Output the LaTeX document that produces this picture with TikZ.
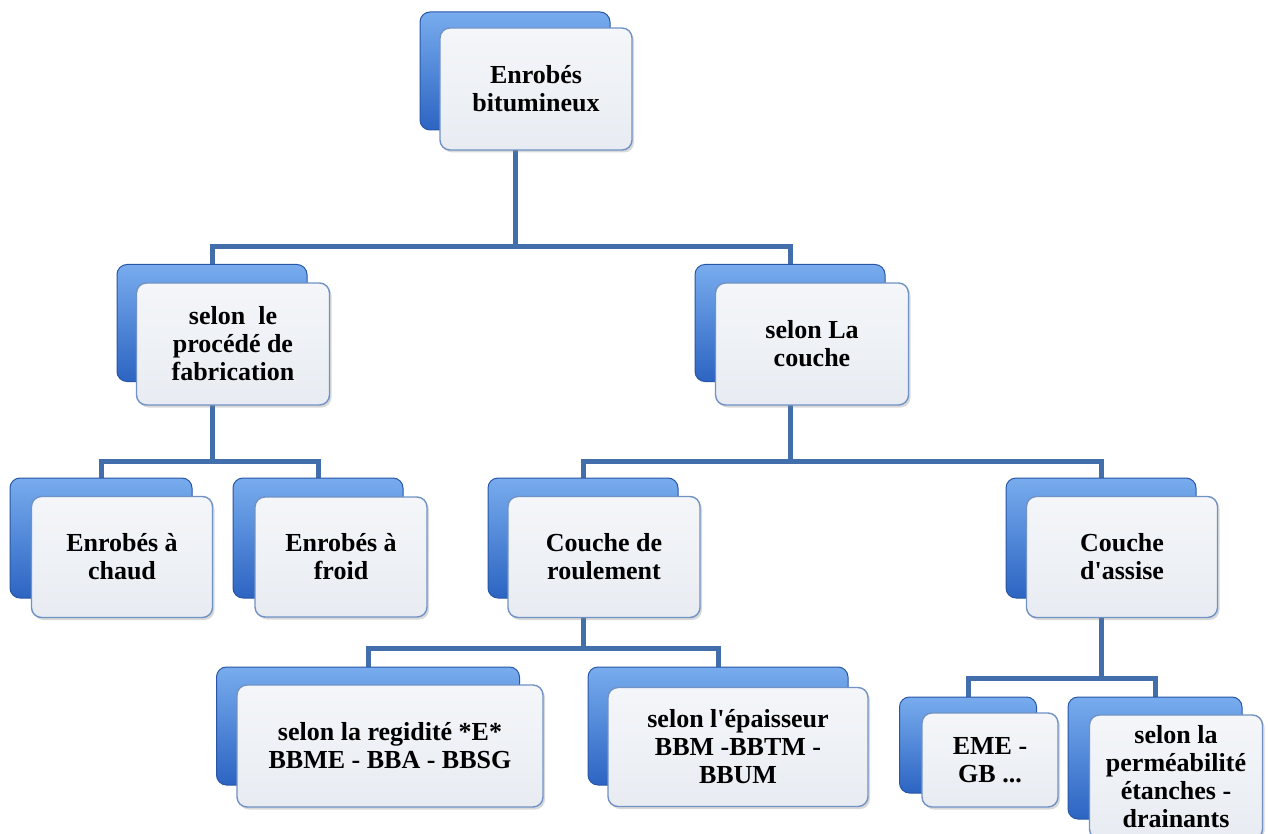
\documentclass[tikz,border=0pt]{standalone}
\usepackage{fontspec}
\setmainfont{Liberation Serif}
\usetikzlibrary{shadows,backgrounds}
\definecolor{linkblue}{RGB}{66,110,172}
\definecolor{backtop}{RGB}{120,172,238}
\definecolor{backbot}{RGB}{44,100,194}
\definecolor{backline}{RGB}{40,86,165}
\definecolor{fronttop}{RGB}{244,246,249}
\definecolor{frontbot}{RGB}{232,236,242}
\definecolor{frontline}{RGB}{112,146,196}
\tikzset{
  backbox/.style={draw=backline, line width=1pt, rounded corners=10pt, top color=backtop, bottom color=backbot, inner sep=0pt},
  frontbox/.style={draw=frontline, line width=1.4pt, rounded corners=10pt, top color=fronttop, bottom color=frontbot, align=center, inner sep=0pt, font=\fontsize{26}{28}\selectfont\bfseries, drop shadow={shadow xshift=2pt, shadow yshift=-2.5pt, opacity=0.3}},
  link/.style={draw=linkblue, line width=5pt}
}
\begin{document}
\begin{tikzpicture}[x=1pt,y=-1pt]
\useasboundingbox (0,0) rectangle (1268,834);
\clip (0,0) rectangle (1268,834);

\node[backbox, minimum width=190pt, minimum height=118pt] (topb) at (515,71) {};
\node[frontbox, minimum width=192pt, minimum height=122pt] (top) at (536,89) {Enrobés\\bitumineux};

\node[backbox, minimum width=190pt, minimum height=117pt] (procb) at (212,323) {};
\node[frontbox, minimum width=193pt, minimum height=122pt] (proc) at (233,344) {selon\ \ le\\procédé de\\fabrication};
\node[backbox, minimum width=190pt, minimum height=117pt] (coucheb) at (790,323) {};
\node[frontbox, minimum width=193pt, minimum height=122pt] (couche) at (812,344) {selon La\\couche};

\node[backbox, minimum width=182pt, minimum height=120pt] (chaudb) at (101,538) {};
\node[frontbox, minimum width=181pt, minimum height=121pt] (chaud) at (122,557) {Enrobés à\\chaud};
\node[backbox, minimum width=170pt, minimum height=120pt] (froidb) at (318,538) {};
\node[frontbox, minimum width=172pt, minimum height=120pt] (froid) at (341,557) {Enrobés à\\froid};
\node[backbox, minimum width=190pt, minimum height=120pt] (roulb) at (583,538) {};
\node[frontbox, minimum width=192pt, minimum height=121pt] (roul) at (604,557) {Couche de\\roulement};
\node[backbox, minimum width=190pt, minimum height=120pt] (assiseb) at (1101,538) {};
\node[frontbox, minimum width=191pt, minimum height=121pt] (assise) at (1122,557) {Couche\\d\textquotesingle assise};

\node[backbox, minimum width=303pt, minimum height=118pt] (rigidb) at (368,726) {};
\node[frontbox, minimum width=306pt, minimum height=122pt] (rigid) at (390,746) {selon la regidité *E*\\BBME - BBA - BBSG};
\node[backbox, minimum width=260pt, minimum height=118pt] (epaisb) at (718,726) {};
\node[frontbox, minimum width=260pt, minimum height=119pt] (epais) at (738,747) {selon l\textquotesingle épaisseur\\BBM -BBTM -\\BBUM};

\node[backbox, minimum width=137pt, minimum height=96pt] (emeb) at (968,745) {};
\node[frontbox, minimum width=136pt, minimum height=94pt] (eme) at (990,760) {EME -\\GB ...};
\node[backbox, minimum width=174pt, minimum height=122pt] (permb) at (1155,758) {};
\node[frontbox, minimum width=173pt, minimum height=124pt] (perm) at (1176,777) {selon la\\perméabilité\\étanches -\\drainants};

\begin{scope}[on background layer]
\coordinate (j0) at (515,247);
\coordinate (j1) at (212,461);
\coordinate (j2) at (790,461);
\coordinate (j3) at (583,648);
\coordinate (j4) at (1101,678);
\draw[link] (topb.center) -- (j0) -| (procb.center);
\draw[link] (j0) -| (coucheb.center);
\draw[link] (procb.center) -- (j1) -| (chaudb.center);
\draw[link] (j1) -| (froidb.center);
\draw[link] (coucheb.center) -- (j2) -| (roulb.center);
\draw[link] (j2) -| (assiseb.center);
\draw[link] (roulb.center) -- (j3) -| (rigidb.center);
\draw[link] (j3) -| (epaisb.center);
\draw[link] (assiseb.center) -- (j4) -| (emeb.center);
\draw[link] (j4) -| (permb.center);
\end{scope}
\end{tikzpicture}
\end{document}
